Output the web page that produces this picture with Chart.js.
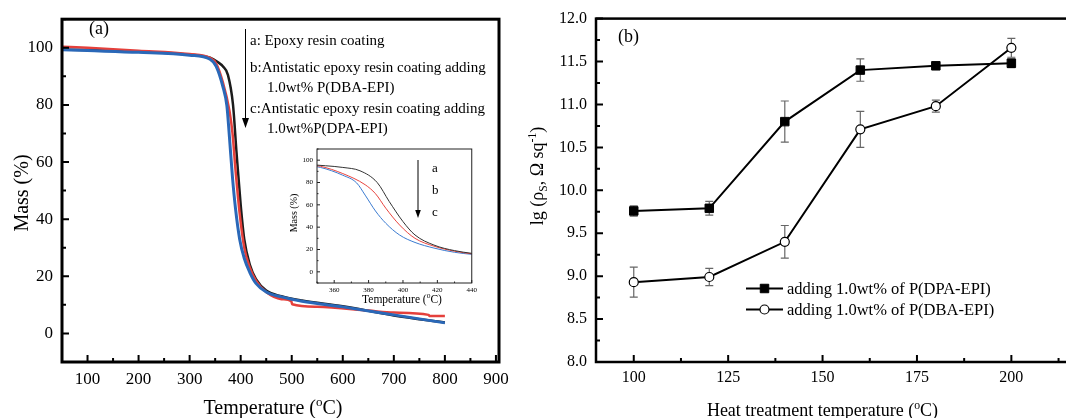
<!DOCTYPE html>
<html>
<head>
<meta charset="utf-8">
<script src="https://cdn.jsdelivr.net/npm/chart.js@4.4.0/dist/chart.umd.min.js"></script>
<style>
  html, body { margin: 0; padding: 0; background: #fff; width: 1066px; height: 418px; overflow: hidden; }
  canvas { position: absolute; }
  #chartA { left: 0; top: 0; }
  #chartB { left: 520px; top: 0; }
  #chartIn { left: 275px; top: 140px; }
</style>
</head>
<body>
<canvas id="chartA" width="520" height="418"></canvas>
<canvas id="chartB" width="560" height="418"></canvas>
<canvas id="chartIn" width="205" height="175"></canvas>
<script>
// ---- (a) TGA curves ----
const tempEpoxy = [50, 100, 200, 300, 340, 355, 365, 375, 385, 392, 400, 407, 418, 430, 450, 480, 520, 600, 700, 800];
const massEpoxy = [99.4, 99.2, 98.6, 97.6, 96.5, 95.0, 93.5, 90.5, 80, 63, 45, 33, 24, 19, 15, 13, 11.5, 9.5, 6.3, 3.8];

const tempDBA = [50, 100, 200, 300, 340, 352, 365, 378, 384, 390, 398, 407, 418, 430, 450, 480, 499, 501, 550, 650, 700, 768, 770, 800];
const massDBA = [100.4, 100.0, 99.0, 97.8, 96.5, 94.5, 88, 78, 70, 57, 42, 30, 23, 18.5, 14.5, 12, 11.3, 10.2, 9.3, 8.0, 7.3, 6.5, 6.1, 6.1];

const tempDPA = [50, 100, 200, 300, 340, 352, 365, 373, 378, 384, 390, 398, 407, 418, 430, 450, 480, 520, 600, 700, 800];
const massDPA = [99.3, 99.0, 98.4, 97.4, 96.0, 93.5, 86.5, 79.7, 68.7, 54.5, 43.5, 33, 26.3, 21.3, 17.5, 14.5, 12.8, 11.3, 9.3, 6.5, 3.7];

const aXTicks = [100, 200, 300, 400, 500, 600, 700, 800, 900];
const aYTicks = [0, 20, 40, 60, 80, 100];
const inXTicks = [360, 380, 400, 420, 440];
const inYTicks = [0, 20, 40, 60, 80, 100];

// ---- (b) surface resistivity ----
const heatTemps = [100, 120, 140, 160, 180, 200];
const lgDPA = [9.76, 9.79, 10.80, 11.40, 11.45, 11.48];
const errDPA = [0.06, 0.08, 0.24, 0.13, 0.02, 0.05];
const lgDBA = [8.93, 8.99, 9.40, 10.71, 10.98, 11.66];
const errDBA = [0.175, 0.10, 0.19, 0.21, 0.07, 0.11];

const bXTicks = [100, 125, 150, 175, 200];
const bYTicks = [8.0, 8.5, 9.0, 9.5, 10.0, 10.5, 11.0, 11.5, 12.0];

const serif = '"Liberation Serif", "Times New Roman", serif';
const pts = (xs, ys) => xs.map((x, i) => ({ x, y: ys[i] }));

// midpoints between majors, plus one step beyond each end when still in range
function minors(ticks, min, max) {
  const step = ticks[1] - ticks[0];
  const out = [];
  for (let v = ticks[0] - step / 2; v <= max + 1e-9; v += step) {
    if (v >= min - 1e-9) out.push(v);
  }
  return out;
}

// draws text pieces with super/subscripts; y is the baseline
function drawRich(ctx, segs, x, y, size, align, rot) {
  ctx.save();
  ctx.translate(x, y);
  if (rot) ctx.rotate(rot);
  let total = 0;
  const parts = segs.map(s => {
    const sz = s[1] ? size * 0.65 : size;
    ctx.font = `${sz}px ${serif}`;
    const w = ctx.measureText(s[0]).width;
    total += w;
    return { t: s[0], kind: s[1], sz, w };
  });
  let cx = align === 'center' ? -total / 2 : align === 'right' ? -total : 0;
  ctx.textAlign = 'left';
  ctx.textBaseline = 'alphabetic';
  ctx.fillStyle = '#000';
  parts.forEach(p => {
    ctx.font = `${p.sz}px ${serif}`;
    const dy = p.kind === 'sup' ? -size * 0.4 : p.kind === 'sub' ? size * 0.22 : 0;
    ctx.fillText(p.t, cx, dy);
    cx += p.w;
  });
  ctx.restore();
}

function drawArrow(ctx, x, y1, y2, head, width) {
  ctx.save();
  ctx.strokeStyle = '#000';
  ctx.fillStyle = '#000';
  ctx.lineWidth = width;
  ctx.beginPath();
  ctx.moveTo(x, y1);
  ctx.lineTo(x, y2 - head);
  ctx.stroke();
  ctx.beginPath();
  ctx.moveTo(x - head * 0.35, y2 - head);
  ctx.lineTo(x + head * 0.35, y2 - head);
  ctx.lineTo(x, y2);
  ctx.closePath();
  ctx.fill();
  ctx.restore();
}

const framePlugin = {
  id: 'frame',
  beforeDraw(chart, args, o) {
    if (!o.fill) return;
    const a = chart.chartArea;
    chart.ctx.save();
    chart.ctx.fillStyle = o.fill;
    chart.ctx.fillRect(a.left, a.top, a.width, a.height);
    chart.ctx.restore();
  },
  afterDraw(chart, args, o) {
    const { ctx, chartArea: a, scales: { x, y } } = chart;
    const xMaj = x.ticks.map(t => t.value);
    const yMaj = y.ticks.map(t => t.value);
    ctx.save();
    ctx.strokeStyle = o.color;
    ctx.lineWidth = o.tickWidth;
    ctx.beginPath();
    const xt = (vals, len) => vals.forEach(v => {
      const px = x.getPixelForValue(v);
      ctx.moveTo(px, a.bottom);
      ctx.lineTo(px, a.bottom - len);
    });
    const yt = (vals, len) => vals.forEach(v => {
      const py = y.getPixelForValue(v);
      ctx.moveTo(a.left, py);
      ctx.lineTo(a.left + len, py);
    });
    xt(xMaj, o.major);
    yt(yMaj, o.major);
    xt(minors(xMaj, x.min, x.max), o.minor);
    yt(minors(yMaj, y.min, y.max), o.minor);
    ctx.stroke();
    ctx.lineWidth = o.width;
    ctx.strokeRect(a.left, a.top, a.width, a.height);
    ctx.restore();
  }
};

const textPlugin = {
  id: 'texts',
  afterDraw(chart, args, o) {
    const ctx = chart.ctx;
    (o.items || []).forEach(it => drawRich(ctx, it.segs, it.x, it.y, it.size, it.align, it.rot));
    (o.arrows || []).forEach(ar => drawArrow(ctx, ar.x, ar.y1, ar.y2, ar.head, ar.width));
  }
};

const errorBars = {
  id: 'errorBars',
  beforeDatasetsDraw(chart, args, o) {
    const { ctx, scales: { y } } = chart;
    ctx.save();
    ctx.strokeStyle = o.color;
    ctx.lineWidth = o.width;
    chart.data.datasets.forEach((ds, i) => {
      chart.getDatasetMeta(i).data.forEach((pt, j) => {
        const v = ds.data[j].y, e = ds.errors[j];
        const top = y.getPixelForValue(v + e), bot = y.getPixelForValue(v - e);
        ctx.beginPath();
        ctx.moveTo(pt.x, top); ctx.lineTo(pt.x, bot);
        ctx.moveTo(pt.x - o.cap, top); ctx.lineTo(pt.x + o.cap, top);
        ctx.moveTo(pt.x - o.cap, bot); ctx.lineTo(pt.x + o.cap, bot);
        ctx.stroke();
      });
    });
    ctx.restore();
  }
};

const legendB = {
  id: 'legendB',
  afterDraw(chart, args, o) {
    const ctx = chart.ctx;
    chart.data.datasets.forEach((ds, i) => {
      const y = o.y + i * o.gap;
      ctx.save();
      ctx.strokeStyle = ds.borderColor;
      ctx.lineWidth = ds.borderWidth;
      ctx.beginPath();
      ctx.moveTo(o.x, y);
      ctx.lineTo(o.x + o.len, y);
      ctx.stroke();
      ctx.fillStyle = ds.pointBackgroundColor;
      ctx.strokeStyle = ds.pointBorderColor;
      ctx.lineWidth = ds.pointBorderWidth;
      Chart.helpers.drawPoint(ctx, { pointStyle: ds.pointStyle, radius: ds.pointRadius, borderWidth: ds.pointBorderWidth, rotation: 0 }, o.x + o.len / 2, y);
      ctx.restore();
      drawRich(ctx, [[ds.label]], o.x + o.len + 4, y + 5.5, o.size, 'left', 0);
    });
  }
};

function linScale(min, max, ticks, fontSize, pad, fit, fmt) {
  return {
    type: 'linear', min, max,
    afterBuildTicks: s => { s.ticks = ticks.map(v => ({ value: v })); },
    afterFit: fit,
    grid: { display: false, drawTicks: false },
    border: { display: false },
    ticks: {
      autoSkip: false, maxRotation: 0, padding: pad, color: '#000',
      font: { family: serif, size: fontSize },
      callback: fmt || (v => v)
    }
  };
}

// ---- panel (a) ----
new Chart(document.getElementById('chartA'), {
  type: 'line',
  data: {
    datasets: [
      { label: 'a', data: pts(tempEpoxy, massEpoxy), borderColor: '#1c1c1c', borderWidth: 2.5, order: 3 },
      { label: 'b', data: pts(tempDBA, massDBA), borderColor: '#e5403b', borderWidth: 2.5, order: 2 },
      { label: 'c', data: pts(tempDPA, massDPA), borderColor: '#2a68b8', borderWidth: 3, order: 1 }
    ]
  },
  options: {
    responsive: false,
    animation: false,
    layout: { padding: { top: 10, right: 21, left: 0, bottom: 0 } },
    elements: { point: { radius: 0 }, line: { cubicInterpolationMode: 'monotone' } },
    scales: {
      x: linScale(50, 906, aXTicks, 17, 7, s => { s.height = 56; }),
      y: linScale(-10, 110, aYTicks, 17, 9, s => { s.width = 62; })
    },
    plugins: {
      legend: { display: false },
      tooltip: { enabled: false },
      frame: { color: '#000', width: 3, tickWidth: 2, major: 7, minor: 4 },
      texts: {
        items: [
          { segs: [['(a)']], x: 89, y: 34, size: 18, align: 'left' },
          { segs: [['a: Epoxy resin coating']], x: 250, y: 45, size: 15, align: 'left' },
          { segs: [['b:Antistatic epoxy resin coating adding']], x: 250, y: 71.5, size: 15, align: 'left' },
          { segs: [['1.0wt% P(DBA-EPI)']], x: 267, y: 92, size: 15, align: 'left' },
          { segs: [['c:Antistatic epoxy resin coating adding']], x: 250, y: 113, size: 15, align: 'left' },
          { segs: [['1.0wt%P(DPA-EPI)']], x: 267, y: 133, size: 15, align: 'left' },
          { segs: [['Temperature ('], ['o', 'sup'], ['C)']], x: 273, y: 414, size: 20, align: 'center' },
          { segs: [['Mass (%)']], x: 28, y: 193, size: 20, align: 'center', rot: -Math.PI / 2 }
        ],
        arrows: [{ x: 245.5, y1: 29, y2: 128, head: 10, width: 1 }]
      }
    }
  },
  plugins: [framePlugin, textPlugin]
});

// ---- inset of panel (a) ----
new Chart(document.getElementById('chartIn'), {
  type: 'line',
  data: {
    datasets: [
      { label: 'a', data: pts(tempEpoxy, massEpoxy), borderColor: '#333333', borderWidth: 1 },
      { label: 'b', data: pts(tempDBA, massDBA), borderColor: '#e8453f', borderWidth: 1 },
      { label: 'c', data: pts(tempDPA, massDPA), borderColor: '#3b7bd0', borderWidth: 1 }
    ]
  },
  options: {
    responsive: false,
    animation: false,
    layout: { padding: { top: 9, right: 6, left: 0, bottom: 0 } },
    elements: { point: { radius: 0 }, line: { cubicInterpolationMode: 'monotone' } },
    scales: {
      x: linScale(350, 440, inXTicks, 7, 3, s => { s.height = 32; }),
      y: linScale(-10, 110, inYTicks, 7, 4, s => { s.width = 42; })
    },
    plugins: {
      legend: { display: false },
      tooltip: { enabled: false },
      frame: { color: '#222', width: 1, tickWidth: 1, major: 3, minor: 1.5, fill: '#fff' },
      texts: {
        items: [
          { segs: [['a']], x: 157, y: 32, size: 13, align: 'left' },
          { segs: [['b']], x: 157, y: 54, size: 13, align: 'left' },
          { segs: [['c']], x: 157, y: 76, size: 13, align: 'left' },
          { segs: [['Temperature ('], ['o', 'sup'], ['C)']], x: 127, y: 163, size: 11.5, align: 'center' },
          { segs: [['Mass (%)']], x: 21.5, y: 73, size: 10, align: 'center', rot: -Math.PI / 2 }
        ],
        arrows: [{ x: 143, y1: 20, y2: 78, head: 8, width: 1 }]
      }
    }
  },
  plugins: [framePlugin, textPlugin]
});

// ---- panel (b) ----
new Chart(document.getElementById('chartB'), {
  type: 'line',
  data: {
    datasets: [
      {
        label: 'adding 1.0wt% of P(DPA-EPI)', data: pts(heatTemps, lgDPA), errors: errDPA,
        borderColor: '#000', borderWidth: 2, pointStyle: 'rect', pointRadius: 6,
        pointBackgroundColor: '#000', pointBorderColor: '#000', pointBorderWidth: 1
      },
      {
        label: 'adding 1.0wt% of P(DBA-EPI)', data: pts(heatTemps, lgDBA), errors: errDBA,
        borderColor: '#000', borderWidth: 2, pointStyle: 'circle', pointRadius: 4.5,
        pointBackgroundColor: '#fff', pointBorderColor: '#000', pointBorderWidth: 1.2
      }
    ]
  },
  options: {
    responsive: false,
    animation: false,
    layout: { padding: { top: 15, right: 12, left: 0, bottom: 0 } },
    elements: { line: { tension: 0 } },
    scales: {
      x: linScale(90, 215, bXTicks, 16, 6, s => { s.height = 56; }),
      y: linScale(8, 12, bYTicks, 16, 9, s => { s.width = 76; }, v => v.toFixed(1))
    },
    plugins: {
      legend: { display: false },
      tooltip: { enabled: false },
      frame: { color: '#000', width: 2.5, tickWidth: 2, major: 7, minor: 4 },
      errorBars: { color: '#666', width: 1.2, cap: 4 },
      legendB: { x: 226, y: 288.5, gap: 21, len: 37, size: 16.5 },
      texts: {
        items: [
          { segs: [['(b)']], x: 98, y: 42, size: 18, align: 'left' },
          { segs: [['Heat treatment temperature ('], ['o', 'sup'], ['C)']], x: 302.5, y: 416, size: 18, align: 'center' },
          { segs: [['lg (ρ'], ['S', 'sub'], [', Ω sq'], ['-1', 'sup'], [')']], x: 23, y: 176, size: 18, align: 'center', rot: -Math.PI / 2 }
        ]
      }
    }
  },
  plugins: [framePlugin, errorBars, legendB, textPlugin]
});
</script>
</body>
</html>
